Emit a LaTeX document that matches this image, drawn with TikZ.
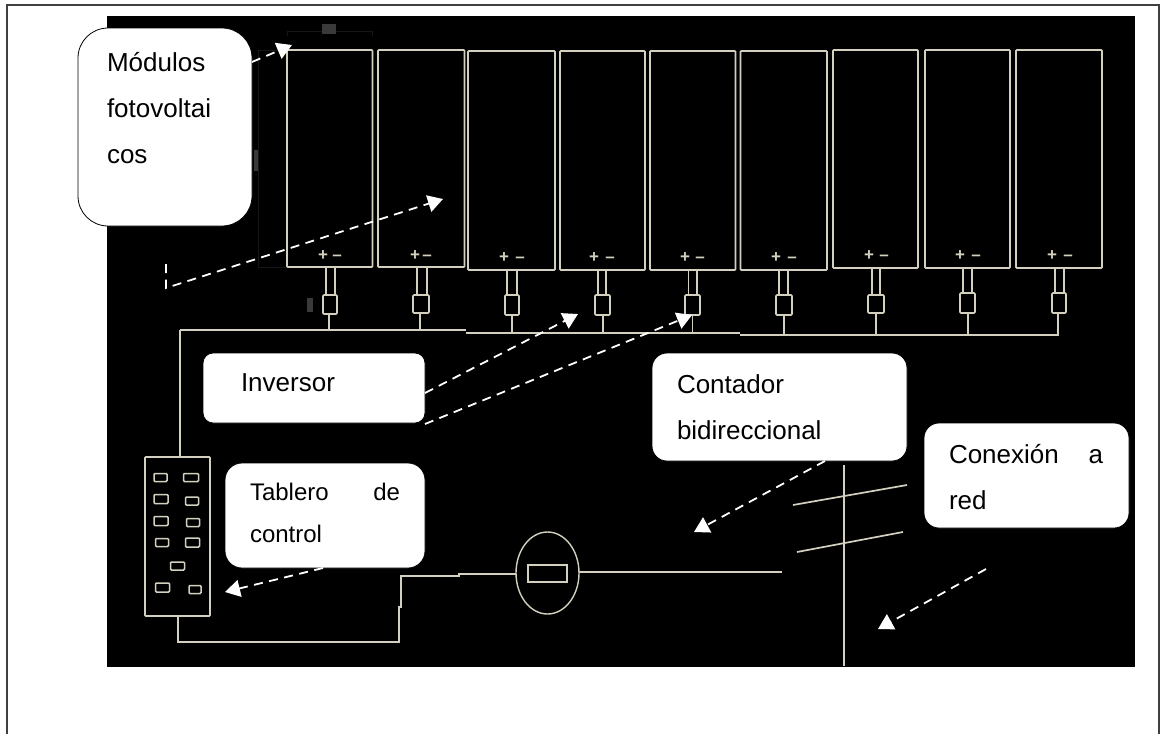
\documentclass[tikz,border=0pt]{standalone}
\usepackage{fontspec}
\setmainfont{Liberation Sans}
\usetikzlibrary{arrows.meta,shapes.geometric}
\definecolor{wire}{HTML}{D3D0BF}
\definecolor{ghost}{HTML}{161616}
\definecolor{ghostfill}{HTML}{3A3A3A}
% width, height, distance from top to first baseline, lines
\newcommand{\clines}[4]{\parbox[c][#2pt][t]{#1pt}{\rule{0pt}{#3pt}#4}}
\tikzset{
  wireline/.style={draw=wire,line width=1.7pt},
  panel/.style={wireline,fill=black,inner sep=0pt,outer sep=0pt,rounded corners=0.8pt},
  slotbox/.style={wireline,line width=1.5pt,fill=black,inner sep=0pt,outer sep=0pt,rounded corners=1pt},
  sign/.style={text=wire,inner sep=0pt,font=\fontsize{17}{17}\selectfont\bfseries},
  callout/.style={draw=black,fill=white,inner sep=0pt,outer sep=0pt,line width=0.8pt,font=\fontsize{26}{46}\selectfont},
  leader/.style={draw=white,line width=1.8pt,dash pattern=on 9pt off 6.5pt,-{Triangle[length=15pt,width=17pt,fill=white]}},
  ghostline/.style={draw=ghost,line width=0.8pt},
  ghostmark/.style={fill=ghostfill,draw=none,inner sep=0pt,outer sep=0pt}
}
\begin{document}
\begin{tikzpicture}[x=1pt,y=-1pt]
\useasboundingbox (0,0) rectangle (1161,734);
\fill[white] (0,0) rectangle (1161,734);
\coordinate (fa) at (7,734);
\coordinate (fb) at (7,5);
\coordinate (fc) at (1159,5);
\coordinate (fd) at (1159,734);
\draw[black!75,line width=1.6pt] (fa) -- (fb) -- (fc) -- (fd);
\node[fill=black,inner sep=0pt,minimum width=1028pt,minimum height=651pt] (bg) at (621,341.5) {};
% faint ghost marks
\draw[ghostline] (287,36) -- (287,31) -- (372,31) -- (372,36);
\draw[ghostline] (287,50) -- (258,50) -- (258,267) -- (287,267);
\node[ghostmark,minimum width=14pt,minimum height=10pt] (g1) at (329,28.5) {};
\node[ghostmark,minimum width=4pt,minimum height=21pt] (g2) at (255.5,160) {};
\node[ghostmark,minimum width=6pt,minimum height=14pt] (g3) at (310,305) {};
% modules
\foreach \i/\xa/\xb/\yb/\yt/\wl/\wr/\bl/\br/\bt/\bb/\pl/\mi/\sy in {
 1/287/372.5/267/50/326/335/323/337/295/314/323/337/256,
 2/378/464.5/267/50/417/427/413/429/295/313/415/427/256,
 3/468/555/270/51/507/517/505/519/295/315/504/520/258,
 4/560/645/270/51/598/606/595/610/295/315/594/610/258,
 5/650/735.5/270/51/688.5/697/685/700/295/315/685/700/258,
 6/740.5/827/270/51/779/788/776/792/295/315/776/792/258,
 7/833/918/268/50/872/880/868/884/295/313/869/884/256,
 8/925/1010/268/50/963/972/960/975/293/313/960/976/256,
 9/1016/1102/268/50/1055/1064/1052/1066/293/313/1052/1068/256}{
  \pgfmathsetmacro{\w}{\xb-\xa}
  \pgfmathsetmacro{\h}{\yb-\yt}
  \pgfmathsetmacro{\cx}{(\xa+\xb)/2}
  \pgfmathsetmacro{\cy}{(\yb+\yt)/2}
  \pgfmathsetmacro{\bw}{\br-\bl}
  \pgfmathsetmacro{\bh}{\bb-\bt}
  \pgfmathsetmacro{\bx}{(\bl+\br)/2}
  \pgfmathsetmacro{\by}{(\bt+\bb)/2}
  \node[panel,minimum width=\w pt,minimum height=\h pt] (mod\i) at (\cx,\cy) {};
  \node[slotbox,line width=1.7pt,minimum width=\bw pt,minimum height=\bh pt] (conv\i) at (\bx,\by) {};
  \coordinate (wa\i) at (\wl,\yb);
  \coordinate (wb\i) at (\wr,\yb);
  \draw[wireline] (wa\i) -- (wa\i |- conv\i.north);
  \draw[wireline] (wb\i) -- (wb\i |- conv\i.north);
  \node[sign] (plus\i) at (\pl,\sy) {+};
  \node[sign,yshift=-1.5pt] (minus\i) at (\mi,\sy) {–};
}
% bus
\coordinate (busA) at (180,330);
\coordinate (busB) at (466,330);
\coordinate (busC) at (466,333);
\coordinate (busD) at (740,333);
\coordinate (busE) at (740,335);
\coordinate (busF) at (1058,335);
\draw[wireline] (busB) -- (busA);
\draw[wireline] (busC) -- (busD);
\draw[wireline] (busE) -- (busF) -- (busF |- conv9.south);
\foreach \i/\st/\yy in {1/329/330,2/420/330,3/512/333,4/603/333,5/692.5/333,6/784/335,7/876/335,8/968/335}{
  \coordinate (st\i) at (\st,\yy);
  \draw[wireline] (st\i) -- (st\i |- conv\i.south);
}
% control board
\node[panel,minimum width=65pt,minimum height=159pt] (board) at (177.5,536.5) {};
\draw[wireline] (busA) -- (busA |- board.north);
\foreach \n/\x/\y/\w/\h in {
 a/160.5/477.5/13/8, b/191/477.5/15/8,
 c/161/499/14/9, d/192/501/13/8,
 e/161/521/14/9, f/193/522.5/13/8,
 g/162/542.5/13/8, h/192.5/542.5/14/9,
 i/177.5/566/14/8,
 j/162.5/587.5/14/9, k/195/589.5/12/8}{
  \node[slotbox,minimum width=\w pt,minimum height=\h pt] (slot\n) at (\x,\y) {};
}
% meter
\node[ellipse,draw=wire,line width=1.4pt,fill=black,inner sep=0pt,outer sep=0pt,minimum width=63pt,minimum height=82pt] (meter) at (547.5,573) {};
\node[slotbox,line width=1.7pt,rounded corners=0pt,minimum width=39pt,minimum height=17pt] (meterslot) at (547.5,573.5) {};
% wiring from board to meter to pole side
\coordinate (wb) at (178,642);
\coordinate (wc) at (399,642);
\coordinate (wd) at (399,607);
\coordinate (we) at (401,607);
\coordinate (wf) at (401,576);
\coordinate (wg) at (459,576);
\coordinate (wh) at (459,574);
\coordinate (lineEnd) at (782,572);
\draw[wireline] (wb |- board.south) -- (wb) -- (wc) -- (wd) -- (we) -- (wf) -- (wg) -- (wh) -- (meter.west |- wh);
\draw[wireline] (meter.east |- lineEnd) -- (lineEnd);
% pole
\coordinate (poleTop) at (844,465);
\coordinate (poleBot) at (844,666);
\coordinate (armAa) at (793,505);
\coordinate (armAb) at (907,485);
\coordinate (armBa) at (797,552);
\coordinate (armBb) at (903,532);
\draw[wireline,line width=1.4pt] (poleTop) -- (poleBot);
\draw[wireline] (armAa) -- (armAb);
\draw[wireline] (armBa) -- (armBb);
% callouts
\node[callout,rounded corners=30pt] (cmod) at (165,127) {\clines{174}{198}{43}{\hspace*{29pt}Módulos\\\hspace*{29pt}fotovoltai\\\hspace*{29pt}cos}};
\node[callout,rounded corners=10pt] (cinv) at (314,388) {\clines{222}{70}{38}{\hspace*{38pt}Inversor}};
\node[callout,rounded corners=17pt,font=\fontsize{24}{42}\selectfont] (ctab) at (325,515.5) {\clines{200}{105}{37}{\hspace*{25pt}\makebox[150pt][s]{Tablero\hfill de}\\\hspace*{25pt}control}};
\node[callout,rounded corners=15pt] (ccon) at (779.5,407) {\clines{255}{108}{40}{\hspace*{25pt}Contador\\\hspace*{25pt}bidireccional}};
\node[callout,rounded corners=15pt] (cred) at (1026.5,475.5) {\clines{205}{105}{40}{\hspace*{25pt}\makebox[154pt][s]{Conexión\hfill a}\\\hspace*{25pt}red}};
% leaders
\coordinate (s1) at (252,62);
\coordinate (t1) at (292,45);
\coordinate (s2a) at (166,264);
\coordinate (s2b) at (166,288);
\coordinate (t2) at (443,199);
\coordinate (s3) at (425,393);
\coordinate (t3) at (578,314);
\coordinate (s4) at (425,424);
\coordinate (t4) at (692,315);
\coordinate (s5) at (323,568);
\coordinate (t5) at (225,592);
\coordinate (s6) at (825,461);
\coordinate (t6) at (694,532);
\coordinate (s7) at (986,569);
\coordinate (t7) at (878,629);
\draw[leader] (s1) -- (t1);
\draw[leader] (s2a) -- (s2b) -- (t2);
\draw[leader] (s3) -- (t3);
\draw[leader] (s4) -- (t4);
\draw[leader] (s5) -- (t5);
\draw[leader] (s6) -- (t6);
\draw[leader] (s7) -- (t7);
\end{tikzpicture}
\end{document}
